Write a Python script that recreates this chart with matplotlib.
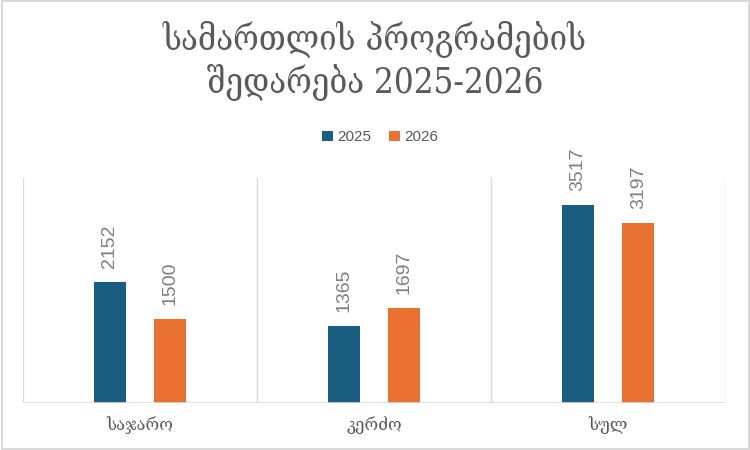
import matplotlib.pyplot as plt
import numpy as np

categories = ["საჯარო", "კერძო", "სულ"]
years = ["2025", "2026"]
values_2025 = [2152, 1365, 3517]
values_2026 = [1500, 1697, 3197]
colors = ["#1a5e82", "#e97132"]
title = "სამართლის პროგრამების\nშედარება 2025-2026"

fig = plt.figure(figsize=(7.5, 4.5), dpi=100)
fig.patches.append(plt.Rectangle((0.002, 0.003), 0.996, 0.994, transform=fig.transFigure,
                                 fill=False, ec="#d9d9d9", lw=1.5))
ax = fig.add_axes([23 / 750, 1 - 403 / 450, 702 / 750, 225 / 450])

x = np.arange(len(categories))
w = 0.137
off = 0.13
for i, (vals, yr) in enumerate(zip([values_2025, values_2026], years)):
    pos = x + (off if i else -off)
    bars = ax.bar(pos, vals, w, color=colors[i], label=yr, zorder=3)
    for b, v in zip(bars, vals):
        ax.annotate(str(v), (b.get_x() + b.get_width() / 2, v), xytext=(0, 10),
                    textcoords="offset points", rotation=90, ha="center", va="bottom",
                    fontsize=14, color="#7f7f7f", family="Liberation Sans")

ax.set_xlim(-0.5, len(categories) - 0.5)
ax.set_ylim(0, 4000)
for b in np.arange(-0.5, len(categories), 1.0):
    ax.axvline(b, color="#d9d9d9", lw=1, zorder=1)
for s in ax.spines.values():
    s.set_visible(False)
ax.axhline(0, color="#d9d9d9", lw=1.2, zorder=4)
ax.set_yticks([])
ax.set_xticks(x)
ax.set_xticklabels(categories, fontsize=12, color="#595959", family="DejaVu Serif")
ax.tick_params(axis="x", length=0, pad=9)
ax.set_facecolor("none")

fig.text(0.5, 0.865, title, ha="center", va="center", fontsize=25, color="#595959",
         family="DejaVu Serif", fontstretch="condensed", linespacing=1.2)

fig.legend(loc="center", bbox_to_anchor=(0.507, 0.695), ncol=2, frameon=False,
           handlelength=0.7, handleheight=0.7, handletextpad=0.3, columnspacing=1.2,
           prop={"family": "Liberation Sans", "size": 11}, labelcolor="#595959")

fig.savefig("out.png", dpi=100)
